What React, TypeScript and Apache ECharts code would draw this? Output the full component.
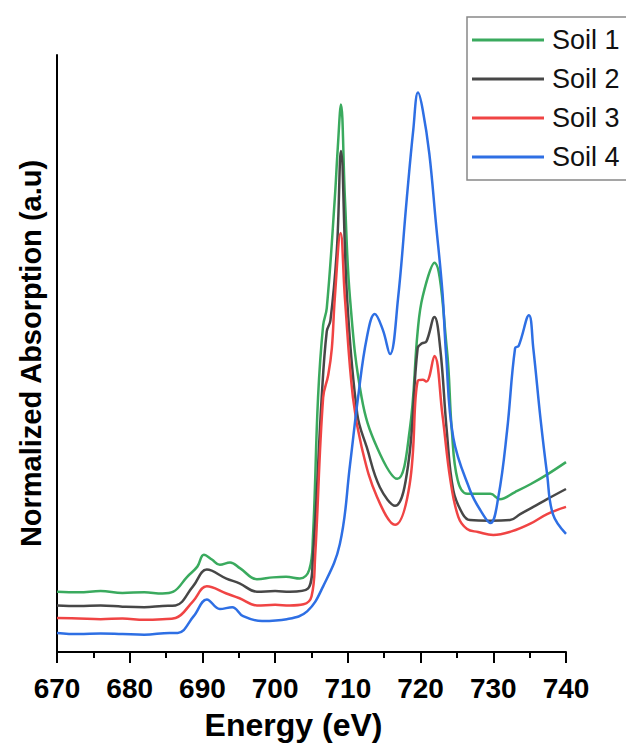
import React, { useEffect, useRef } from "react";
import * as echarts from "echarts";

const seriesNames = ["Soil 1", "Soil 2", "Soil 3", "Soil 4"];
const seriesColors = ["#3aaa5e", "#474747", "#f04444", "#2e6fe4"];

const xTicks = [670, 680, 690, 700, 710, 720, 730, 740];

const soil1Energy = [670, 673, 676, 679, 682, 684.5, 686, 687.9, 689.3, 690.2, 691.3, 692.4, 693.8, 695.2, 697.5, 699.7, 701.5, 703.4, 704.7, 705.2, 705.9, 706.6, 707.1, 708.2, 708.6, 709.05, 709.6, 710.3, 711.9, 714.0, 716.8, 718.5, 719.6, 720.3, 721.9, 723.6, 724.3, 725.1, 726.4, 729.6, 730.9, 733, 735.1, 737.5, 740];
const soil1Values = [10.1, 10.0, 10.2, 9.9, 10.0, 9.8, 10.1, 12.6, 14.3, 16.3, 15.5, 14.6, 15.0, 14.0, 12.2, 12.5, 12.6, 12.3, 13.8, 19.3, 42.6, 54.7, 57.6, 75.9, 84.2, 91.7, 75.9, 59.2, 42.6, 34.3, 29.0, 37.1, 53.7, 59.6, 65.2, 50.9, 37.1, 28.8, 26.5, 26.5, 25.6, 26.8, 28.1, 29.8, 31.8];

const soil2Energy = [670, 673, 676, 679, 682, 684.5, 686.3, 688.7, 690.6, 693.3, 695.1, 697.5, 700, 702, 704.5, 705.2, 706.4, 707.1, 707.6, 708.5, 709.05, 709.9, 711.3, 712.6, 714.4, 716.5, 718.3, 719.6, 720.2, 720.8, 721.9, 722.7, 723.6, 724.5, 725.8, 726.8, 729.5, 732.3, 733.7, 735.5, 737.4, 740];
const soil2Values = [7.8, 7.7, 7.8, 7.6, 7.5, 7.7, 7.8, 11.0, 13.8, 12.3, 11.5, 10.1, 10.2, 10.1, 10.6, 16.0, 42.6, 53.7, 55.5, 67.6, 83.9, 59.2, 39.8, 34.3, 27.6, 24.5, 31.4, 50.9, 51.7, 52.0, 56.1, 50.9, 37.1, 27.1, 23.1, 22.1, 22.0, 22.1, 23.1, 24.3, 25.6, 27.3];

const soil3Energy = [670, 673, 676, 679, 682, 684.5, 686.3, 688.7, 690.6, 693.3, 695.1, 697.5, 700, 702, 703.9, 705.0, 705.5, 706.6, 707.3, 707.8, 708.2, 709.0, 709.6, 710.7, 711.9, 714.0, 716.5, 718.5, 719.6, 720.3, 720.8, 721.9, 723.0, 724.1, 725.2, 726.4, 727.9, 730.0, 732.5, 735.1, 737.4, 740];
const soil3Values = [5.7, 5.6, 5.5, 5.6, 5.4, 5.5, 5.7, 8.5, 11.0, 9.8, 9.0, 7.8, 7.9, 7.8, 8.0, 9.3, 16.0, 42.6, 46.4, 50.9, 59.2, 70.2, 59.2, 42.6, 34.3, 26.0, 21.3, 28.1, 45.4, 45.6, 45.3, 49.6, 39.8, 28.8, 22.6, 20.6, 20.1, 19.6, 20.2, 21.5, 23.1, 24.3];

const soil4Energy = [670, 673, 676, 679, 682, 685.5, 686.6, 688.8, 690.6, 692.4, 694.1, 695.6, 698.2, 701.6, 704.4, 706.6, 708.9, 710.3, 711.4, 712.6, 713.7, 714.8, 715.8, 716.9, 718.1, 719.0, 719.65, 720.3, 721.2, 722.1, 723.0, 723.5, 724.5, 726.8, 728.2, 729.6, 730.7, 731.9, 733.0, 733.5, 734.9, 735.5, 736.5, 737.4, 738.2, 740];
const soil4Values = [3.2, 3.0, 3.1, 3.0, 2.9, 3.2, 3.2, 6.0, 8.8, 7.2, 7.5, 6.0, 5.2, 5.5, 6.8, 11.0, 18.1, 31.4, 42.6, 52.6, 56.6, 54.0, 49.9, 59.2, 75.9, 87.5, 93.7, 90.8, 83.5, 72.0, 60.4, 50.0, 35.9, 27.1, 23.8, 21.6, 26.0, 37.1, 50.9, 51.3, 56.4, 50.9, 39.0, 29.8, 23.1, 19.8];

const energies = [soil1Energy, soil2Energy, soil3Energy, soil4Energy];
const values = [soil1Values, soil2Values, soil3Values, soil4Values];

const FONT = "'Liberation Sans', Arial, Helvetica, sans-serif";

export default function App() {
  const ref = useRef<HTMLDivElement>(null);
  useEffect(() => {
    if (!ref.current) return;
    const chart = echarts.init(ref.current, undefined, { renderer: "svg" });
    chart.setOption({
      animation: false,
      backgroundColor: "#ffffff",
      grid: { left: 57, right: 60, top: 55, bottom: 90, containLabel: false },
      legend: {
        orient: "vertical",
        left: 467,
        top: 17,
        icon: "rect",
        itemWidth: 72,
        itemHeight: 3,
        itemGap: 9,
        padding: [8, 12, 8, 5],
        borderColor: "#888",
        borderWidth: 1.5,
        backgroundColor: "#fff",
        textStyle: { fontFamily: FONT, fontSize: 27, color: "#111", lineHeight: 30, padding: [0, 0, 0, 3] },
        data: seriesNames,
      },
      xAxis: {
        type: "value",
        min: 670,
        max: 740,
        interval: 10,
        name: "Energy (eV)",
        nameLocation: "middle",
        nameGap: 57,
        nameTextStyle: {
          fontFamily: FONT,
          fontSize: 32,
          fontWeight: "bold",
          color: "#000",
          padding: [0, 36, 0, 0],
        },
        axisLine: { show: true, onZero: false, lineStyle: { color: "#000", width: 2 } },
        axisTick: { show: true, inside: false, length: 11, lineStyle: { color: "#000", width: 2 } },
        minorTick: { show: true, splitNumber: 2, length: 6, lineStyle: { color: "#000", width: 2 } },
        axisLabel: {
          fontFamily: FONT,
          fontSize: 28,
          fontWeight: "bold",
          color: "#000",
          margin: 22,
          formatter: (v: number) => (xTicks.includes(v) ? String(v) : ""),
        },
        splitLine: { show: false },
      },
      yAxis: {
        type: "value",
        min: 0,
        max: 100,
        name: "Normalized Absorption (a.u)",
        nameLocation: "middle",
        nameGap: 12,
        nameTextStyle: { fontFamily: FONT, fontSize: 29, fontWeight: "bold", color: "#000" },
        axisLine: { show: true, lineStyle: { color: "#000", width: 2 } },
        axisTick: { show: false },
        axisLabel: { show: false },
        splitLine: { show: false },
      },
      series: seriesNames.map((name, i) => ({
        name,
        type: "line",
        symbol: "none",
        smooth: 0.4,
        color: seriesColors[i],
        lineStyle: { color: seriesColors[i], width: 2.5 },
        data: energies[i].map((e, j) => [e, values[i][j]]),
      })),
    });
    return () => chart.dispose();
  }, []);
  return (
    <div
      ref={ref}
      style={{ position: "fixed", left: 0, top: 0, width: 626, height: 746, background: "#fff" }}
    />
  );
}
